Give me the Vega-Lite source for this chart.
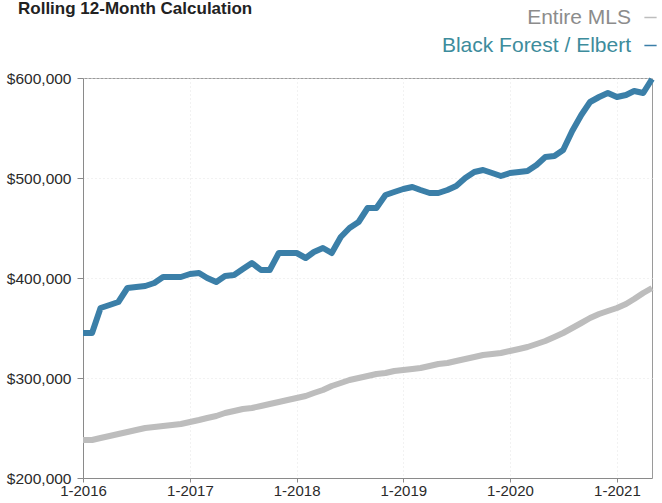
{
  "$schema": "https://vega.github.io/schema/vega-lite/v6.json",
  "width": 569,
  "height": 400,
  "autosize": "none",
  "padding": {"left": 83, "top": 78, "right": 10, "bottom": 25},
  "background": "white",
  "title": {
    "text": "Rolling 12-Month Calculation",
    "anchor": "start",
    "frame": "group",
    "font": "Liberation Sans",
    "fontSize": 17,
    "fontWeight": "bold",
    "color": "#222",
    "baseline": "top",
    "offset": 0,
    "dx": -65,
    "dy": 11
  },
  "config": {
    "font": "Liberation Sans",
    "view": {"stroke": "#9a9a9a", "strokeWidth": 1},
    "axis": {
      "gridColor": "#e4e4e4",
      "gridDash": [1, 3],
      "gridWidth": 1,
      "domainColor": "#8a8a8a",
      "tickColor": "#8a8a8a",
      "labelFont": "Liberation Sans",
      "labelColor": "#2a2a2a"
    }
  },
  "data": {
    "values": [
      {"date": "2016-01-01", "series": "Black Forest / Elbert", "value": 345000},
      {"date": "2016-02-01", "series": "Black Forest / Elbert", "value": 345000},
      {"date": "2016-03-01", "series": "Black Forest / Elbert", "value": 370000},
      {"date": "2016-04-01", "series": "Black Forest / Elbert", "value": 373000},
      {"date": "2016-05-01", "series": "Black Forest / Elbert", "value": 376000},
      {"date": "2016-06-01", "series": "Black Forest / Elbert", "value": 390000},
      {"date": "2016-07-01", "series": "Black Forest / Elbert", "value": 391000},
      {"date": "2016-08-01", "series": "Black Forest / Elbert", "value": 392000},
      {"date": "2016-09-01", "series": "Black Forest / Elbert", "value": 395000},
      {"date": "2016-10-01", "series": "Black Forest / Elbert", "value": 401000},
      {"date": "2016-11-01", "series": "Black Forest / Elbert", "value": 401000},
      {"date": "2016-12-01", "series": "Black Forest / Elbert", "value": 401000},
      {"date": "2017-01-01", "series": "Black Forest / Elbert", "value": 404000},
      {"date": "2017-02-01", "series": "Black Forest / Elbert", "value": 405000},
      {"date": "2017-03-01", "series": "Black Forest / Elbert", "value": 400000},
      {"date": "2017-04-01", "series": "Black Forest / Elbert", "value": 396000},
      {"date": "2017-05-01", "series": "Black Forest / Elbert", "value": 402000},
      {"date": "2017-06-01", "series": "Black Forest / Elbert", "value": 403000},
      {"date": "2017-07-01", "series": "Black Forest / Elbert", "value": 409000},
      {"date": "2017-08-01", "series": "Black Forest / Elbert", "value": 415000},
      {"date": "2017-09-01", "series": "Black Forest / Elbert", "value": 408000},
      {"date": "2017-10-01", "series": "Black Forest / Elbert", "value": 408000},
      {"date": "2017-11-01", "series": "Black Forest / Elbert", "value": 425000},
      {"date": "2017-12-01", "series": "Black Forest / Elbert", "value": 425000},
      {"date": "2018-01-01", "series": "Black Forest / Elbert", "value": 425000},
      {"date": "2018-02-01", "series": "Black Forest / Elbert", "value": 420000},
      {"date": "2018-03-01", "series": "Black Forest / Elbert", "value": 426000},
      {"date": "2018-04-01", "series": "Black Forest / Elbert", "value": 430000},
      {"date": "2018-05-01", "series": "Black Forest / Elbert", "value": 425000},
      {"date": "2018-06-01", "series": "Black Forest / Elbert", "value": 441000},
      {"date": "2018-07-01", "series": "Black Forest / Elbert", "value": 450000},
      {"date": "2018-08-01", "series": "Black Forest / Elbert", "value": 456000},
      {"date": "2018-09-01", "series": "Black Forest / Elbert", "value": 470000},
      {"date": "2018-10-01", "series": "Black Forest / Elbert", "value": 470000},
      {"date": "2018-11-01", "series": "Black Forest / Elbert", "value": 483000},
      {"date": "2018-12-01", "series": "Black Forest / Elbert", "value": 486000},
      {"date": "2019-01-01", "series": "Black Forest / Elbert", "value": 489000},
      {"date": "2019-02-01", "series": "Black Forest / Elbert", "value": 491000},
      {"date": "2019-03-01", "series": "Black Forest / Elbert", "value": 488000},
      {"date": "2019-04-01", "series": "Black Forest / Elbert", "value": 485000},
      {"date": "2019-05-01", "series": "Black Forest / Elbert", "value": 485000},
      {"date": "2019-06-01", "series": "Black Forest / Elbert", "value": 488000},
      {"date": "2019-07-01", "series": "Black Forest / Elbert", "value": 492000},
      {"date": "2019-08-01", "series": "Black Forest / Elbert", "value": 500000},
      {"date": "2019-09-01", "series": "Black Forest / Elbert", "value": 506000},
      {"date": "2019-10-01", "series": "Black Forest / Elbert", "value": 508000},
      {"date": "2019-11-01", "series": "Black Forest / Elbert", "value": 505000},
      {"date": "2019-12-01", "series": "Black Forest / Elbert", "value": 502000},
      {"date": "2020-01-01", "series": "Black Forest / Elbert", "value": 505000},
      {"date": "2020-02-01", "series": "Black Forest / Elbert", "value": 506000},
      {"date": "2020-03-01", "series": "Black Forest / Elbert", "value": 507000},
      {"date": "2020-04-01", "series": "Black Forest / Elbert", "value": 513000},
      {"date": "2020-05-01", "series": "Black Forest / Elbert", "value": 521000},
      {"date": "2020-06-01", "series": "Black Forest / Elbert", "value": 522000},
      {"date": "2020-07-01", "series": "Black Forest / Elbert", "value": 528000},
      {"date": "2020-08-01", "series": "Black Forest / Elbert", "value": 547000},
      {"date": "2020-09-01", "series": "Black Forest / Elbert", "value": 563000},
      {"date": "2020-10-01", "series": "Black Forest / Elbert", "value": 576000},
      {"date": "2020-11-01", "series": "Black Forest / Elbert", "value": 581000},
      {"date": "2020-12-01", "series": "Black Forest / Elbert", "value": 585000},
      {"date": "2021-01-01", "series": "Black Forest / Elbert", "value": 581000},
      {"date": "2021-02-01", "series": "Black Forest / Elbert", "value": 583000},
      {"date": "2021-03-01", "series": "Black Forest / Elbert", "value": 587000},
      {"date": "2021-04-01", "series": "Black Forest / Elbert", "value": 585000},
      {"date": "2021-05-01", "series": "Black Forest / Elbert", "value": 599000},
      {"date": "2016-01-01", "series": "Entire MLS", "value": 238000},
      {"date": "2016-02-01", "series": "Entire MLS", "value": 238000},
      {"date": "2016-03-01", "series": "Entire MLS", "value": 240000},
      {"date": "2016-04-01", "series": "Entire MLS", "value": 242000},
      {"date": "2016-05-01", "series": "Entire MLS", "value": 244000},
      {"date": "2016-06-01", "series": "Entire MLS", "value": 246000},
      {"date": "2016-07-01", "series": "Entire MLS", "value": 248000},
      {"date": "2016-08-01", "series": "Entire MLS", "value": 250000},
      {"date": "2016-09-01", "series": "Entire MLS", "value": 251000},
      {"date": "2016-10-01", "series": "Entire MLS", "value": 252000},
      {"date": "2016-11-01", "series": "Entire MLS", "value": 253000},
      {"date": "2016-12-01", "series": "Entire MLS", "value": 254000},
      {"date": "2017-01-01", "series": "Entire MLS", "value": 256000},
      {"date": "2017-02-01", "series": "Entire MLS", "value": 258000},
      {"date": "2017-03-01", "series": "Entire MLS", "value": 260000},
      {"date": "2017-04-01", "series": "Entire MLS", "value": 262000},
      {"date": "2017-05-01", "series": "Entire MLS", "value": 265000},
      {"date": "2017-06-01", "series": "Entire MLS", "value": 267000},
      {"date": "2017-07-01", "series": "Entire MLS", "value": 269000},
      {"date": "2017-08-01", "series": "Entire MLS", "value": 270000},
      {"date": "2017-09-01", "series": "Entire MLS", "value": 272000},
      {"date": "2017-10-01", "series": "Entire MLS", "value": 274000},
      {"date": "2017-11-01", "series": "Entire MLS", "value": 276000},
      {"date": "2017-12-01", "series": "Entire MLS", "value": 278000},
      {"date": "2018-01-01", "series": "Entire MLS", "value": 280000},
      {"date": "2018-02-01", "series": "Entire MLS", "value": 282000},
      {"date": "2018-03-01", "series": "Entire MLS", "value": 285000},
      {"date": "2018-04-01", "series": "Entire MLS", "value": 288000},
      {"date": "2018-05-01", "series": "Entire MLS", "value": 292000},
      {"date": "2018-06-01", "series": "Entire MLS", "value": 295000},
      {"date": "2018-07-01", "series": "Entire MLS", "value": 298000},
      {"date": "2018-08-01", "series": "Entire MLS", "value": 300000},
      {"date": "2018-09-01", "series": "Entire MLS", "value": 302000},
      {"date": "2018-10-01", "series": "Entire MLS", "value": 304000},
      {"date": "2018-11-01", "series": "Entire MLS", "value": 305000},
      {"date": "2018-12-01", "series": "Entire MLS", "value": 307000},
      {"date": "2019-01-01", "series": "Entire MLS", "value": 308000},
      {"date": "2019-02-01", "series": "Entire MLS", "value": 309000},
      {"date": "2019-03-01", "series": "Entire MLS", "value": 310000},
      {"date": "2019-04-01", "series": "Entire MLS", "value": 312000},
      {"date": "2019-05-01", "series": "Entire MLS", "value": 314000},
      {"date": "2019-06-01", "series": "Entire MLS", "value": 315000},
      {"date": "2019-07-01", "series": "Entire MLS", "value": 317000},
      {"date": "2019-08-01", "series": "Entire MLS", "value": 319000},
      {"date": "2019-09-01", "series": "Entire MLS", "value": 321000},
      {"date": "2019-10-01", "series": "Entire MLS", "value": 323000},
      {"date": "2019-11-01", "series": "Entire MLS", "value": 324000},
      {"date": "2019-12-01", "series": "Entire MLS", "value": 325000},
      {"date": "2020-01-01", "series": "Entire MLS", "value": 327000},
      {"date": "2020-02-01", "series": "Entire MLS", "value": 329000},
      {"date": "2020-03-01", "series": "Entire MLS", "value": 331000},
      {"date": "2020-04-01", "series": "Entire MLS", "value": 334000},
      {"date": "2020-05-01", "series": "Entire MLS", "value": 337000},
      {"date": "2020-06-01", "series": "Entire MLS", "value": 341000},
      {"date": "2020-07-01", "series": "Entire MLS", "value": 345000},
      {"date": "2020-08-01", "series": "Entire MLS", "value": 350000},
      {"date": "2020-09-01", "series": "Entire MLS", "value": 355000},
      {"date": "2020-10-01", "series": "Entire MLS", "value": 360000},
      {"date": "2020-11-01", "series": "Entire MLS", "value": 364000},
      {"date": "2020-12-01", "series": "Entire MLS", "value": 367000},
      {"date": "2021-01-01", "series": "Entire MLS", "value": 370000},
      {"date": "2021-02-01", "series": "Entire MLS", "value": 374000},
      {"date": "2021-03-01", "series": "Entire MLS", "value": 379000},
      {"date": "2021-04-01", "series": "Entire MLS", "value": 385000},
      {"date": "2021-05-01", "series": "Entire MLS", "value": 390000}
    ]
  },
  "mark": {"type": "line", "strokeWidth": 6, "strokeJoin": "round", "strokeCap": "butt"},
  "encoding": {
    "x": {
      "field": "date",
      "type": "temporal",
      "scale": {"type": "utc", "domain": [{"year": 2016, "month": 1, "date": 1, "utc": true}, {"year": 2021, "month": 5, "date": 1, "utc": true}], "nice": false},
      "axis": {
        "title": null,
        "format": "%-m-%Y",
        "values": [
          {"year": 2016, "month": 1, "date": 1, "utc": true},
          {"year": 2017, "month": 1, "date": 1, "utc": true},
          {"year": 2018, "month": 1, "date": 1, "utc": true},
          {"year": 2019, "month": 1, "date": 1, "utc": true},
          {"year": 2020, "month": 1, "date": 1, "utc": true},
          {"year": 2021, "month": 1, "date": 1, "utc": true}
        ],
        "labelFontSize": 15,
        "labelFontWeight": 500,
        "labelPadding": 1,
        "tickSize": 4,
        "labelFlush": false,
        "labelOverlap": false
      }
    },
    "y": {
      "field": "value",
      "type": "quantitative",
      "scale": {"domain": [200000, 600000], "nice": false, "zero": false},
      "axis": {
        "title": null,
        "format": "$,.0f",
        "values": [200000, 300000, 400000, 500000, 600000],
        "labelFontSize": 15.5,
        "labelPadding": 6,
        "tickSize": 6
      }
    },
    "color": {
      "field": "series",
      "type": "nominal",
      "scale": {"domain": ["Entire MLS", "Black Forest / Elbert"], "range": ["#bdbdbd", "#3b7fa8"]},
      "legend": {
        "title": null,
        "orient": "none",
        "legendX": 557,
        "legendY": -71,
        "symbolType": "stroke",
        "symbolSize": 150,
        "symbolStrokeWidth": 1.5,
        "labelAlign": "right",
        "labelOffset": -30,
        "labelFontSize": 21,
        "labelFont": "Liberation Sans",
        "rowPadding": 6,
        "labelLimit": 300,
        "encode": {
          "labels": {"update": {"fill": {"signal": "datum.value === 'Entire MLS' ? '#8c8c8c' : '#3d8c9c'"}}}
        }
      }
    }
  }
}
